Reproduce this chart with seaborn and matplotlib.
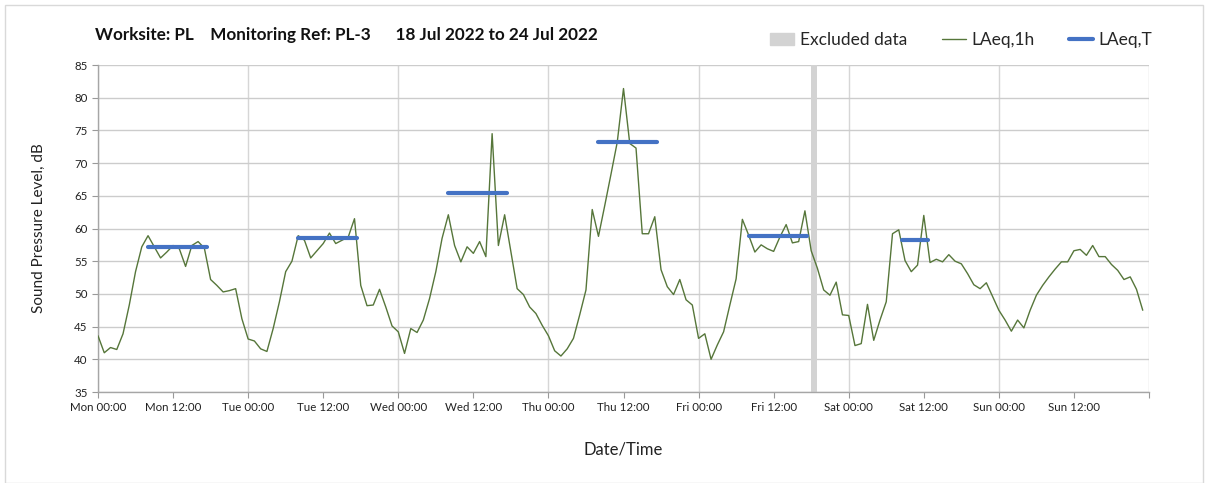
import matplotlib
matplotlib.use("Agg")
import matplotlib.pyplot as plt
import matplotlib.patches as mpatches
from matplotlib.lines import Line2D
import pandas as pd
import seaborn as sns

# Hourly LAeq,1h readings, Mon 00:00 onwards (one value per hour)
laeq_1h = [
    # Mon
    43.6, 41.0, 41.8, 41.5, 43.9, 48.3, 53.4, 57.2, 58.9, 57.2, 55.5, 56.4,
    57.4, 56.9, 54.2, 57.4, 58.0, 57.0, 52.2, 51.3, 50.3, 50.5, 50.8, 46.2,
    # Tue
    43.1, 42.8, 41.6, 41.2, 44.7, 48.8, 53.4, 55.0, 58.9, 58.2, 55.5, 56.6,
    57.7, 59.3, 57.7, 58.2, 58.7, 61.5, 51.3, 48.2, 48.3, 50.7, 48.0, 45.1,
    # Wed
    44.2, 40.9, 44.7, 44.1, 46.0, 49.3, 53.4, 58.5, 62.1, 57.4, 54.9, 57.2,
    56.2, 58.0, 55.7, 74.5, 57.4, 62.1, 56.4, 50.8, 49.9, 48.0, 47.0, 45.2,
    # Thu
    43.6, 41.3, 40.5, 41.6, 43.2, 46.8, 50.6, 62.9, 58.8, 63.5, 68.3, 73.2,
    81.4, 73.0, 72.3, 59.2, 59.2, 61.8, 53.7, 51.1, 49.9, 52.2, 49.1, 48.3,
    # Fri
    43.2, 43.9, 40.0, 42.2, 44.2, 48.3, 52.3, 61.4, 59.0, 56.4, 57.5, 56.9,
    56.5, 58.7, 60.6, 57.8, 58.0, 62.7, 56.6, 53.9, 50.6, 49.8, 51.8, 46.8,
    # Sat
    46.7, 42.1, 42.4, 48.4, 42.9, 46.0, 48.8, 59.2, 59.8, 55.1, 53.4, 54.4,
    62.0, 54.8, 55.3, 54.9, 56.0, 55.0, 54.6, 53.1, 51.4, 50.8, 51.7, 49.6,
    # Sun
    47.5, 46.0, 44.3, 46.0, 44.8, 47.5, 49.8, 51.3, 52.6, 53.8, 54.9, 54.9,
    56.6, 56.8, 55.9, 57.4, 55.7, 55.7, 54.5, 53.6, 52.2, 52.6, 50.7, 47.5,
]
hours = list(range(len(laeq_1h)))

# Working period LAeq,T (hours from Mon 00:00)
period_start = [8.0, 32.0, 56.0, 80.0, 104.0, 128.5]
period_end = [17.4, 41.4, 65.4, 89.4, 113.4, 132.6]
laeq_t = [57.2, 58.5, 65.5, 73.3, 58.9, 58.3]

# Excluded data window
excluded_start = [114.0]
excluded_end = [115.0]

day_names = ["Mon", "Tue", "Wed", "Thu", "Fri", "Sat", "Sun"]
tick_labels = [f"{d} {t}" for d in day_names for t in ["00:00", "12:00"]]

GREEN = "#56763a"
BLUE = "#4472c4"
GREY_BAND = "#d3d3d3"
GRID = "#cccccc"

sns.set_theme(style="white")
plt.rcParams["font.family"] = ["Lato", "DejaVu Sans"]

fig = plt.figure(figsize=(12.08, 4.83), dpi=100)
ax = fig.add_axes([98 / 1208, 1 - 392 / 483, (1149 - 98) / 1208, (392 - 65) / 483])

# excluded band behind the lines
for s, e in zip(excluded_start, excluded_end):
    ax.axvspan(s, e, color=GREY_BAND, lw=0, zorder=1)

# vertical gridlines at day boundaries
for d in range(0, 169, 24):
    ax.axvline(d, color="#d6d6d6", lw=1, zorder=0)

hourly = pd.DataFrame({"hour": hours, "LAeq,1h": laeq_1h})
sns.lineplot(data=hourly, x="hour", y="LAeq,1h", color=GREEN, lw=1, ax=ax, zorder=3)

periods = pd.DataFrame({
    "hour": period_start + period_end,
    "level": laeq_t + laeq_t,
    "period": list(range(len(laeq_t))) * 2,
})
sns.lineplot(data=periods, x="hour", y="level", units="period", estimator=None,
             color=BLUE, lw=3, ax=ax, zorder=4)

ax.set_xlim(0, 168)
ax.set_ylim(35, 85)
ax.set_yticks(range(35, 86, 5))
ax.set_xticks(list(range(0, 168, 12)) + [168])
ax.set_xticklabels(tick_labels + [""])
ax.yaxis.grid(True, color=GRID, lw=1)
ax.set_axisbelow(True)
ax.tick_params(axis="both", labelsize=8.3, length=4, width=0.8,
               direction="out", bottom=True, left=True,
               colors="#999999", labelcolor="#222222")
for side in ["top", "right"]:
    ax.spines[side].set_visible(False)
for side in ["left", "bottom"]:
    ax.spines[side].set_color("#a6a6a6")
    ax.spines[side].set_linewidth(1)

ax.set_xlabel("Date/Time", fontsize=12, color="#222222", labelpad=20)
ax.set_ylabel("Sound Pressure Level, dB", fontsize=11, color="#222222", labelpad=20)

fig.text(95 / 1208, 1 - 35 / 483,
         "Worksite: PL    Monitoring Ref: PL-3      18 Jul 2022 to 24 Jul 2022",
         fontsize=12.3, fontweight="bold", ha="left", va="center", color="#111111")

handles = [
    mpatches.Patch(color=GREY_BAND, label="Excluded data"),
    Line2D([], [], color=GREEN, lw=1, label="LAeq,1h"),
    Line2D([], [], color=BLUE, lw=3, label="LAeq,T"),
]
fig.legend(handles=handles, loc="center right", ncol=3, frameon=False,
           bbox_to_anchor=(1168 / 1208, 1 - 40 / 483), fontsize=12.5,
           handlelength=1.4, handletextpad=0.3, columnspacing=2.0)

fig.patches.append(mpatches.Rectangle((5 / 1208, 0.0), 1 - 10 / 1208, 1 - 5 / 483,
                                      transform=fig.transFigure, fill=False,
                                      edgecolor="#d9d9d9", lw=1))

fig.savefig("out.png", dpi=100)
